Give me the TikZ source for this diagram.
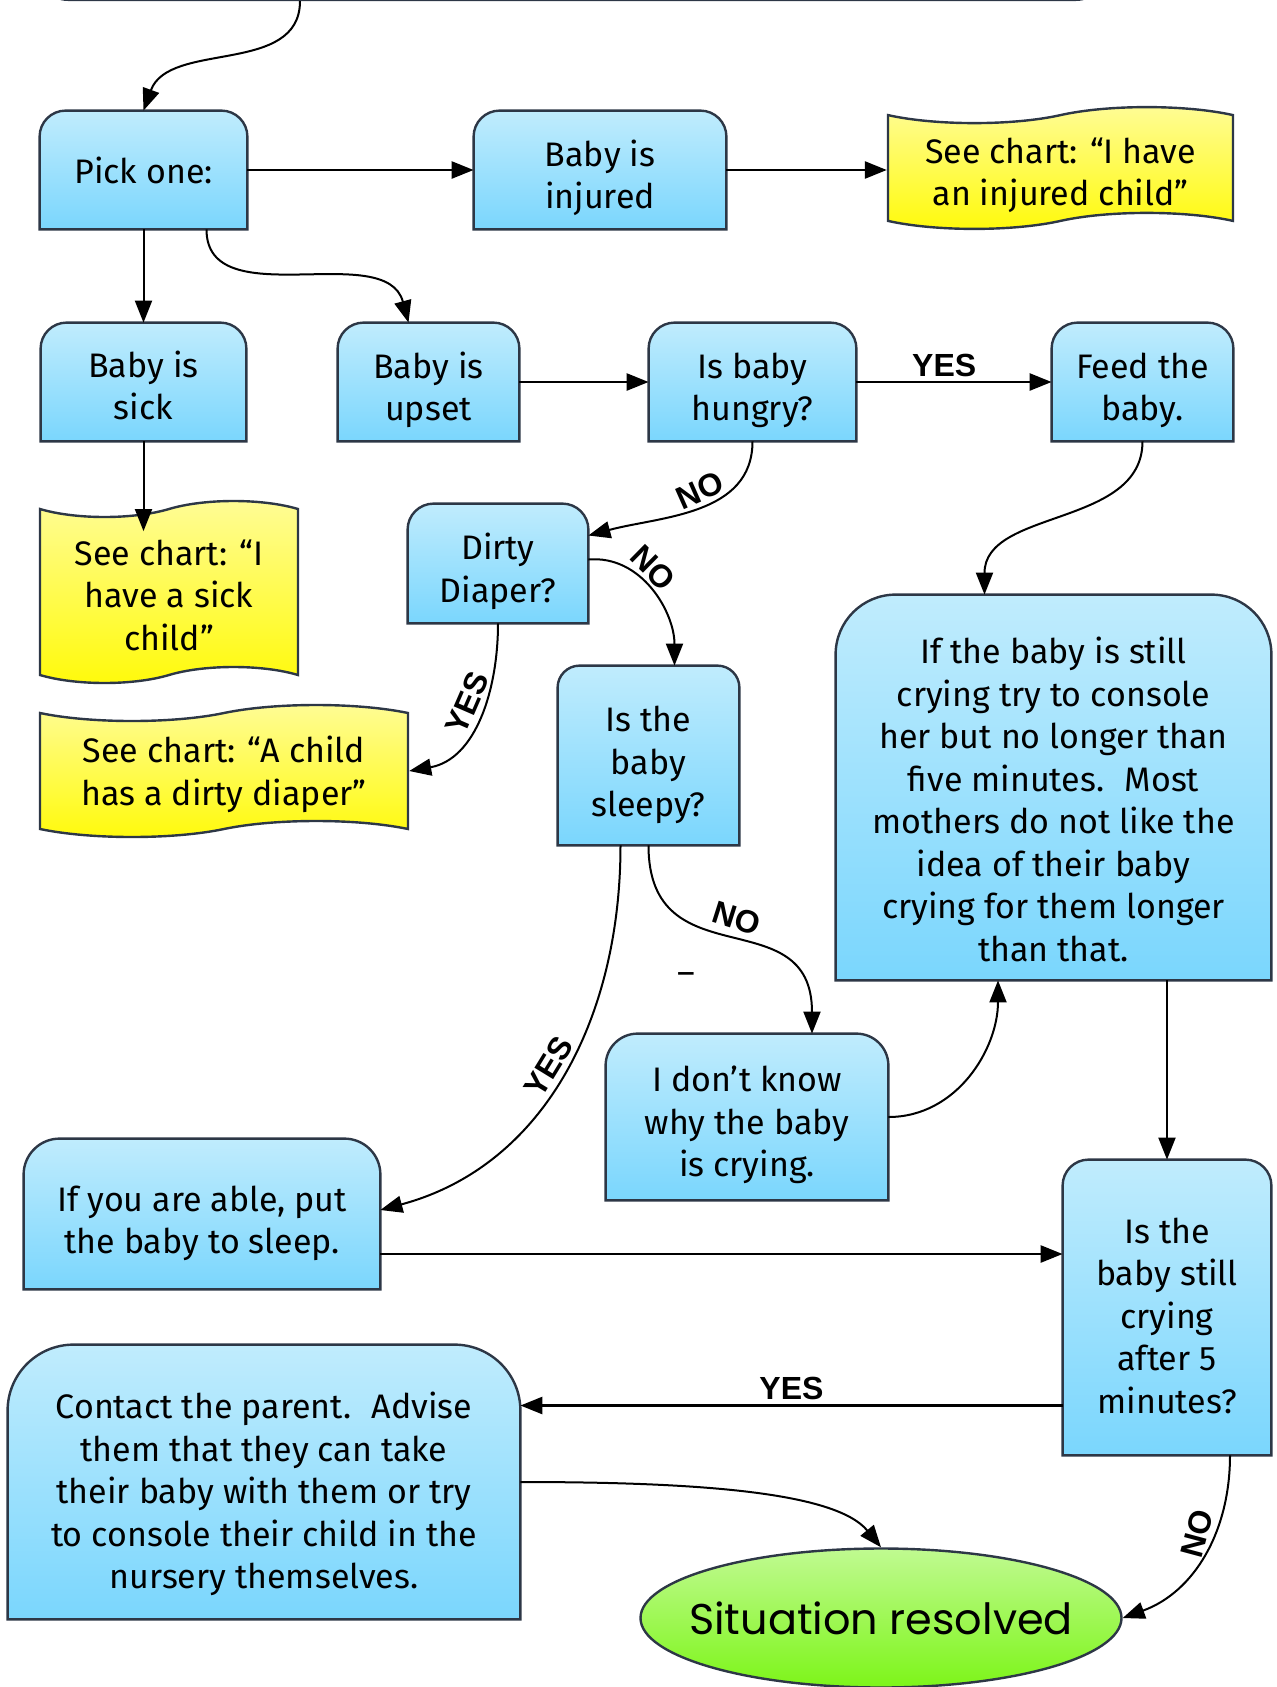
\documentclass[tikz,border=0pt]{standalone}
\usepackage{fontspec}
\setmainfont{Fira Sans}
\newfontfamily\labelfont{Liberation Sans}
\newfontfamily\endfont{Poppins}
\usetikzlibrary{arrows.meta, shapes.symbols, shapes.geometric}

\pgfdeclarelayer{background}
\pgfsetlayers{background,main}

\definecolor{edge}{RGB}{45,55,70}
\definecolor{boxtop}{RGB}{192,236,253}
\definecolor{boxbot}{RGB}{122,214,253}
\definecolor{charttop}{RGB}{255,252,150}
\definecolor{chartbot}{RGB}{255,250,10}
\definecolor{endtop}{RGB}{192,250,145}
\definecolor{endbot}{RGB}{125,245,25}

\begin{document}
\begin{tikzpicture}[x=0.5pt, y=-0.5pt,
    >={Triangle[length=11pt, width=8.5pt]},
    txt/.style={align=center, inner sep=0pt, font=\fontsize{17}{21.25}\selectfont},
    boxtxt/.style={txt, text height=#1},
    boxshape/.style={draw=edge, line width=1.2pt, top color=boxtop, middle color=boxbot, bottom color=boxbot},
    chart/.style={txt, text height=#1, tape, draw=edge, line width=1.2pt, top color=charttop, bottom color=chartbot, tape bend height=8pt},
    link/.style={line width=1.3pt},
    curve/.style={line width=1pt},
    answer/.style={font=\labelfont\bfseries\fontsize{16}{18}\selectfont, inner sep=2pt}]
    \useasboundingbox (0,0) rectangle (1276,1687);

    % Box cut off at the top
    \node[draw=edge, line width=1.2pt, fill=boxbot, rounded corners=15pt, minimum width=534pt, minimum height=80pt, anchor=south] (start) at (572,1) {};

    % Blue steps
    \node[txt, minimum width=103.5pt, minimum height=59pt] (pick) at (143.5,170) {Pick one:};
    \node[boxtxt=42.3pt, minimum width=126pt, minimum height=59pt] (injured) at (600,170) {Baby is\\injured};
    \node[boxtxt=38pt, minimum width=102.5pt, minimum height=59pt] (sick) at (143.5,382) {Baby is\\sick};
    \node[boxtxt=42.3pt, minimum width=90.5pt, minimum height=59pt] (upset) at (428.5,382) {Baby is\\upset};
    \node[boxtxt=42.3pt, minimum width=103.5pt, minimum height=59pt] (hungry) at (752.5,382) {Is baby\\hungry?};
    \node[boxtxt=42.3pt, minimum width=90.5pt, minimum height=59pt] (feed) at (1142.5,382) {Feed the\\baby.};
    \node[boxtxt=42.3pt, minimum width=90pt, minimum height=59.5pt] (dirty) at (498,563.5) {Dirty\\Diaper?};
    \node[boxtxt=64.7pt, minimum width=90.5pt, minimum height=89.5pt] (sleepy) at (648.5,755.5) {Is the\\baby\\sleepy?};
    \node[boxtxt=174pt, minimum width=217.5pt, minimum height=192.5pt] (big) at (1053.5,787.5) {If the baby is still\\crying try to console\\her but no longer than\\five minutes.\hspace{0.6em}Most\\mothers do not like the\\idea of their baby\\crying for them longer\\than that.};
    \node[boxtxt=63.6pt, minimum width=141pt, minimum height=83pt] (dontknow) at (747,1117) {I don’t know\\why the baby\\is crying.};
    \node[boxtxt=43.4pt, minimum width=178pt, minimum height=75pt] (able) at (202,1214) {If you are able, put\\the baby to sleep.};
    \node[boxtxt=106pt, minimum width=104pt, minimum height=147.5pt] (still) at (1167,1307.5) {Is the\\baby still\\crying\\after 5\\minutes?};
    \node[boxtxt=110.4pt, minimum width=256pt, minimum height=137pt] (contact) at (264,1482) {Contact the parent.\hspace{0.6em}Advise\\them that they can take\\their baby with them or try\\to console their child in the\\nursery themselves.};

    % Other charts
    \node[chart=41.3pt, minimum width=172.5pt, minimum height=60pt] (chartinj) at (1060.5,168) {See chart: “I have\\an injured child”};
    \node[chart=58.2pt, minimum width=129pt, minimum height=91pt] (chartsick) at (169,592) {See chart: “I\\have a sick\\child”};
    \node[chart=38pt, minimum width=184pt, minimum height=66pt] (chartdirty) at (224,771) {See chart: “A child\\has a dirty diaper”};

    % End
    \node[ellipse, draw=edge, line width=1.2pt, top color=endtop, bottom color=endbot, minimum width=240.5pt, minimum height=69.5pt, font=\endfont\fontsize{21.5}{26}\selectfont] (resolved) at (881,1618) {\makebox[0pt]{Situation resolved}};
    \node[txt] (dash) at (686,979) {–};

    \begin{pgfonlayer}{background}
    \foreach \n/\r in {pick/13pt, injured/13pt, sick/13pt, upset/13pt, hungry/13pt, feed/13pt, dirty/13pt, sleepy/11pt, big/30pt, dontknow/16pt, able/18pt, still/13pt, contact/33pt}
        \path[boxshape] (\n.south west) -- ([yshift=-\r]\n.north west)
            arc[start angle=180, end angle=90, radius=\r]
            -- ([xshift=-\r]\n.north east)
            arc[start angle=90, end angle=0, radius=\r]
            -- (\n.south east) -- cycle;
    \end{pgfonlayer}

    % Arrows
    \draw[->, curve] ([xshift=-136pt]start.south) to[out=-90, in=70] (pick.north);
    \draw[->, link] (pick.east) -- (injured.west);
    \draw[->, link] (injured.east) -- (injured.east -| chartinj.west);
    \draw[->, curve] (pick.south) -- (sick.north);
    \draw[->, curve] ([xshift=31.5pt]pick.south) to[out=-90, in=105] ([xshift=-10pt]upset.north);
    \draw[->, link] (upset.east) -- (hungry.west);
    \draw[->, link] (hungry.east) -- node[answer, above, pos=0.45] {YES} (feed.west);
    \draw[->, curve] (sick.south) -- ([yshift=-11.5pt]sick.south |- chartsick.north);
    \draw[->, curve] (hungry.south) to[out=-90, in=15] node[answer, pos=0.45, sloped, above] {NO} ([yshift=14pt]dirty.east);
    \draw[->, curve] ([yshift=2pt]dirty.east) to[out=5, in=90] node[answer, pos=0.4, sloped, above] {NO} ([xshift=13pt]sleepy.north);
    \draw[->, curve] (dirty.south) to[out=-90, in=10] node[answer, pos=0.45, sloped, above] {YES} (chartdirty.east);
    \draw[->, curve] (feed.south) to[out=-90, in=90] ([xshift=-34.5pt]big.north);
    \draw[->, curve] (sleepy.south) to[out=-90, in=90, looseness=1.4] node[answer, pos=0.5, sloped, above=3pt] {NO} ([xshift=32.5pt]dontknow.north);
    \draw[->, curve] ([xshift=-14pt]sleepy.south) to[out=-90, in=15] node[answer, pos=0.5, sloped, above] {YES} ([yshift=2pt]able.east);
    \draw[->, curve] (dontknow.east) to[out=0, in=-90] ([xshift=-27.75pt]big.south);
    \draw[->, curve] (still.north |- big.south) -- (still.north);
    \draw[->, link] ([yshift=-20pt]able.east) -- ([yshift=-20pt]able.east -| still.west);
    \draw[->, link] ([yshift=-49pt]still.west) -- node[answer, above] {YES} ([yshift=-49pt]still.west -| contact.east);
    \draw[->, curve] (contact.east) .. controls +(180,0) and +(-45,-55) .. (resolved.north);
    \draw[->, curve] ([xshift=31.5pt]still.south) to[out=-90, in=20] node[answer, pos=0.4, rotate=75, anchor=south] {NO} (resolved.east);
\end{tikzpicture}
\end{document}
